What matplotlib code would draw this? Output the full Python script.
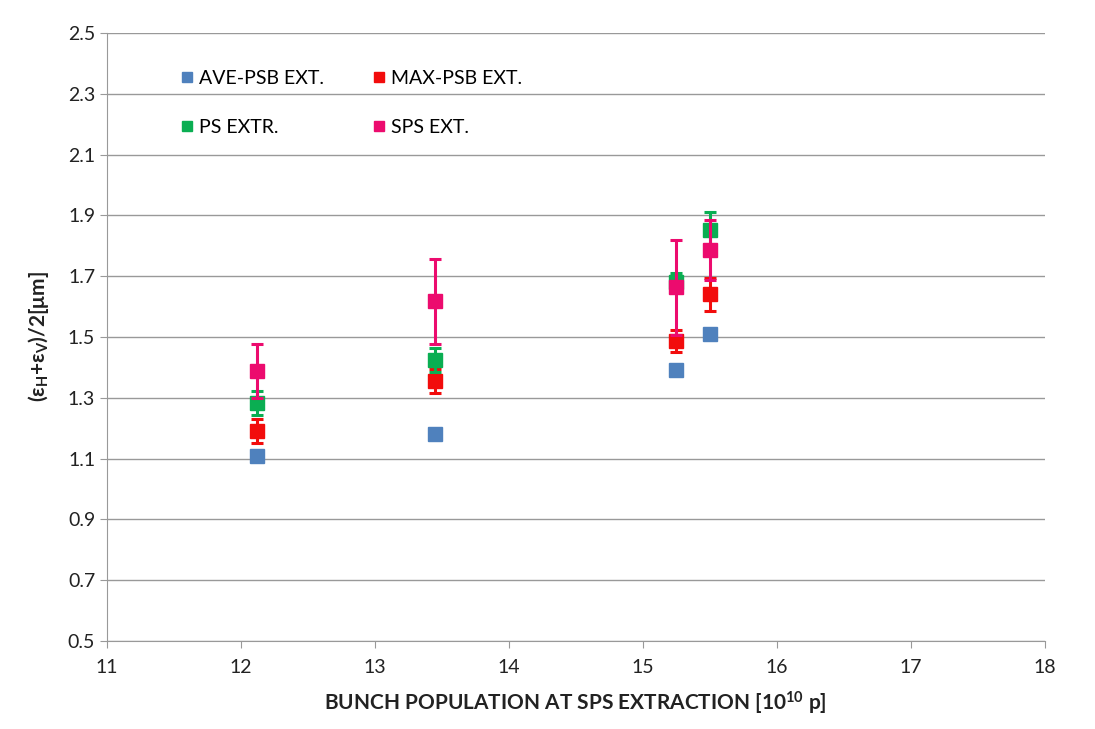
import matplotlib
matplotlib.use("Agg")
import matplotlib.pyplot as plt
import numpy as np

plt.rcParams['font.family'] = ['Lato', 'DejaVu Sans']
plt.rcParams['mathtext.fontset'] = 'custom'
plt.rcParams['mathtext.rm'] = 'Lato:bold'
plt.rcParams['mathtext.bf'] = 'Lato:bold'
plt.rcParams['mathtext.it'] = 'Lato:bold'

x_vals = [12.12, 13.45, 15.25, 15.50]

series_names = ["AVE-PSB EXT.", "MAX-PSB EXT.", "PS EXTR.", "SPS EXT."]
ave_psb = [1.11, 1.18, 1.39, 1.51]
ave_err = [0.0, 0.0, 0.0, 0.0]
max_psb = [1.19, 1.355, 1.487, 1.64]
max_err = [0.04, 0.04, 0.035, 0.055]
ps_extr = [1.283, 1.424, 1.68, 1.852]
ps_err = [0.04, 0.04, 0.03, 0.06]
sps_ext = [1.388, 1.618, 1.663, 1.786]
sps_err = [0.09, 0.14, 0.155, 0.10]

colors = ["#4F81BD", "#F20C0C", "#0AAE52", "#EC0B6E"]

x_ticks = [11, 12, 13, 14, 15, 16, 17, 18]
y_ticks = [0.5, 0.7, 0.9, 1.1, 1.3, 1.5, 1.7, 1.9, 2.1, 2.3, 2.5]

fig = plt.figure(figsize=(10.95, 7.29), dpi=100)
ax = fig.add_axes([0.0977, 0.1207, 0.8563, 0.834])

data = [(ave_psb, ave_err), (max_psb, max_err), (ps_extr, ps_err), (sps_ext, sps_err)]
handles = []
for i, (name, (vals, errs), c) in enumerate(zip(series_names, data, colors)):
    if any(e > 0 for e in errs):
        ax.errorbar(x_vals, vals, yerr=errs, fmt='none', ecolor=c, elinewidth=2.2,
                    capsize=4, capthick=2.2, zorder=3 + i)
    h, = ax.plot(x_vals, vals, linestyle='none', marker='s', markersize=10.5,
                 color=c, label=name, zorder=4 + i)
    handles.append(h)

ax.set_xlim(11, 18)
ax.set_ylim(0.5, 2.5)
ax.set_xticks(x_ticks)
ax.set_yticks(y_ticks)
ax.set_yticklabels([f"{v:.1f}" for v in y_ticks])
ax.yaxis.grid(True, color='#999999', linewidth=1.0)
ax.set_axisbelow(True)
for s in ['top', 'right']:
    ax.spines[s].set_visible(False)
for s in ['left', 'bottom']:
    ax.spines[s].set_color('#999999')
ax.tick_params(axis='both', labelsize=14, colors='#222222', length=5, color='#999999')
ax.tick_params(axis='x', pad=8)

ax.set_xlabel("BUNCH POPULATION AT SPS EXTRACTION [10$^{10}$ p]",
              fontsize=15, fontweight='bold', color='#222222', labelpad=10)
ax.set_ylabel("(ε$_{H}$+ε$_{V}$)/2[μm]",
              fontsize=15, fontweight='bold', color='#222222', labelpad=12)

# Legend order: row 1 AVE, MAX; row 2 PS, SPS (matplotlib fills columns first)
order = [0, 2, 1, 3]
leg = ax.legend([handles[k] for k in order], [series_names[k] for k in order],
                ncol=2, loc='upper left', bbox_to_anchor=(0.072, 0.952),
                frameon=False, fontsize=14, handlelength=0.5, handletextpad=0.35,
                columnspacing=2.6, labelspacing=1.65, markerscale=0.75, borderaxespad=0)

fig.savefig("out.png", dpi=100, facecolor='white')
